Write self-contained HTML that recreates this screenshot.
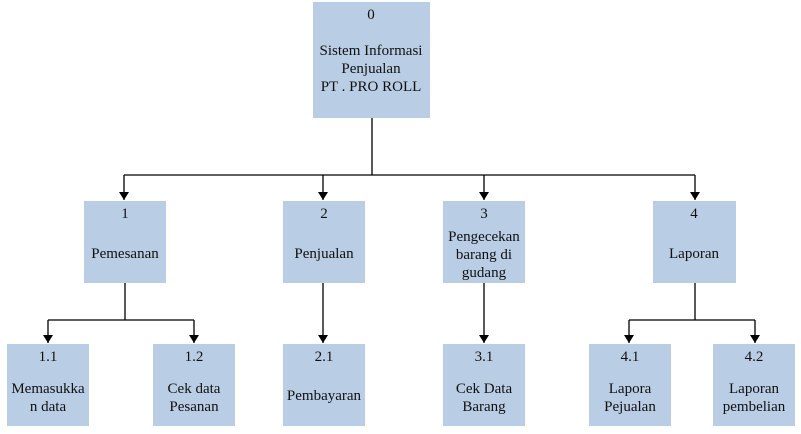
<!DOCTYPE html>
<html><head><style>
html,body{margin:0;padding:0;background:#fff;width:801px;height:434px;overflow:hidden}
svg text{font-family:"Liberation Serif","Times New Roman",serif;font-size:15px;fill:#111;text-anchor:middle}
</style></head><body>
<svg width="801" height="434" viewBox="0 0 801 434" xmlns="http://www.w3.org/2000/svg">
<defs><marker id="a" markerWidth="12" markerHeight="12" refX="5" refY="9" orient="0" markerUnits="userSpaceOnUse"><path d="M0,1 L10,1 L5,9 Z" fill="#000"/></marker></defs>
<g fill="#b9cde5">
<rect x="313" y="2" width="117" height="116"/>
<rect x="84" y="201" width="82" height="82"/>
<rect x="283" y="201" width="82" height="82"/>
<rect x="443" y="201" width="82" height="82"/>
<rect x="653" y="201" width="83" height="82"/>
<rect x="7" y="344" width="82" height="82"/>
<rect x="153" y="344" width="82" height="82"/>
<rect x="283" y="344" width="82" height="82"/>
<rect x="443" y="344" width="82" height="82"/>
<rect x="589" y="344" width="82" height="82"/>
<rect x="713" y="344" width="82" height="82"/>
</g>
<g stroke="#000" stroke-width="1.3" fill="none">
<path d="M372 118 V175 M124 175 H695"/>
<path d="M124 175 V200" marker-end="url(#a)"/>
<path d="M323 175 V200" marker-end="url(#a)"/>
<path d="M484 175 V200" marker-end="url(#a)"/>
<path d="M695 175 V200" marker-end="url(#a)"/>
<path d="M125 283 V320 M48 320 H194"/>
<path d="M48 320 V343" marker-end="url(#a)"/>
<path d="M194 320 V343" marker-end="url(#a)"/>
<path d="M323 283 V343" marker-end="url(#a)"/>
<path d="M484 283 V343" marker-end="url(#a)"/>
<path d="M695 283 V320 M629 320 H755"/>
<path d="M629 320 V343" marker-end="url(#a)"/>
<path d="M755 320 V343" marker-end="url(#a)"/>
</g>
<text x="371" y="19">0</text>
<text x="371" y="55">Sistem Informasi</text>
<text x="371" y="73">Penjualan</text>
<text x="371" y="91">PT . PRO ROLL</text>
<text x="125" y="218">1</text><text x="125" y="258">Pemesanan</text>
<text x="324" y="218">2</text><text x="324" y="258">Penjualan</text>
<text x="484" y="218">3</text><text x="484" y="241">Pengecekan</text><text x="484" y="259">barang di</text><text x="484" y="277">gudang</text>
<text x="694" y="218">4</text><text x="694" y="258">Laporan</text>
<text x="48" y="361">1.1</text><text x="48" y="393">Memasukka</text><text x="48" y="411">n data</text>
<text x="194" y="361">1.2</text><text x="194" y="393">Cek data</text><text x="194" y="411">Pesanan</text>
<text x="324" y="361">2.1</text><text x="324" y="400">Pembayaran</text>
<text x="484" y="361">3.1</text><text x="484" y="393">Cek Data</text><text x="484" y="411">Barang</text>
<text x="630" y="361">4.1</text><text x="630" y="393">Lapora</text><text x="630" y="411">Pejualan</text>
<text x="754" y="361">4.2</text><text x="754" y="393">Laporan</text><text x="754" y="411">pembelian</text>
</svg>
</body></html>
